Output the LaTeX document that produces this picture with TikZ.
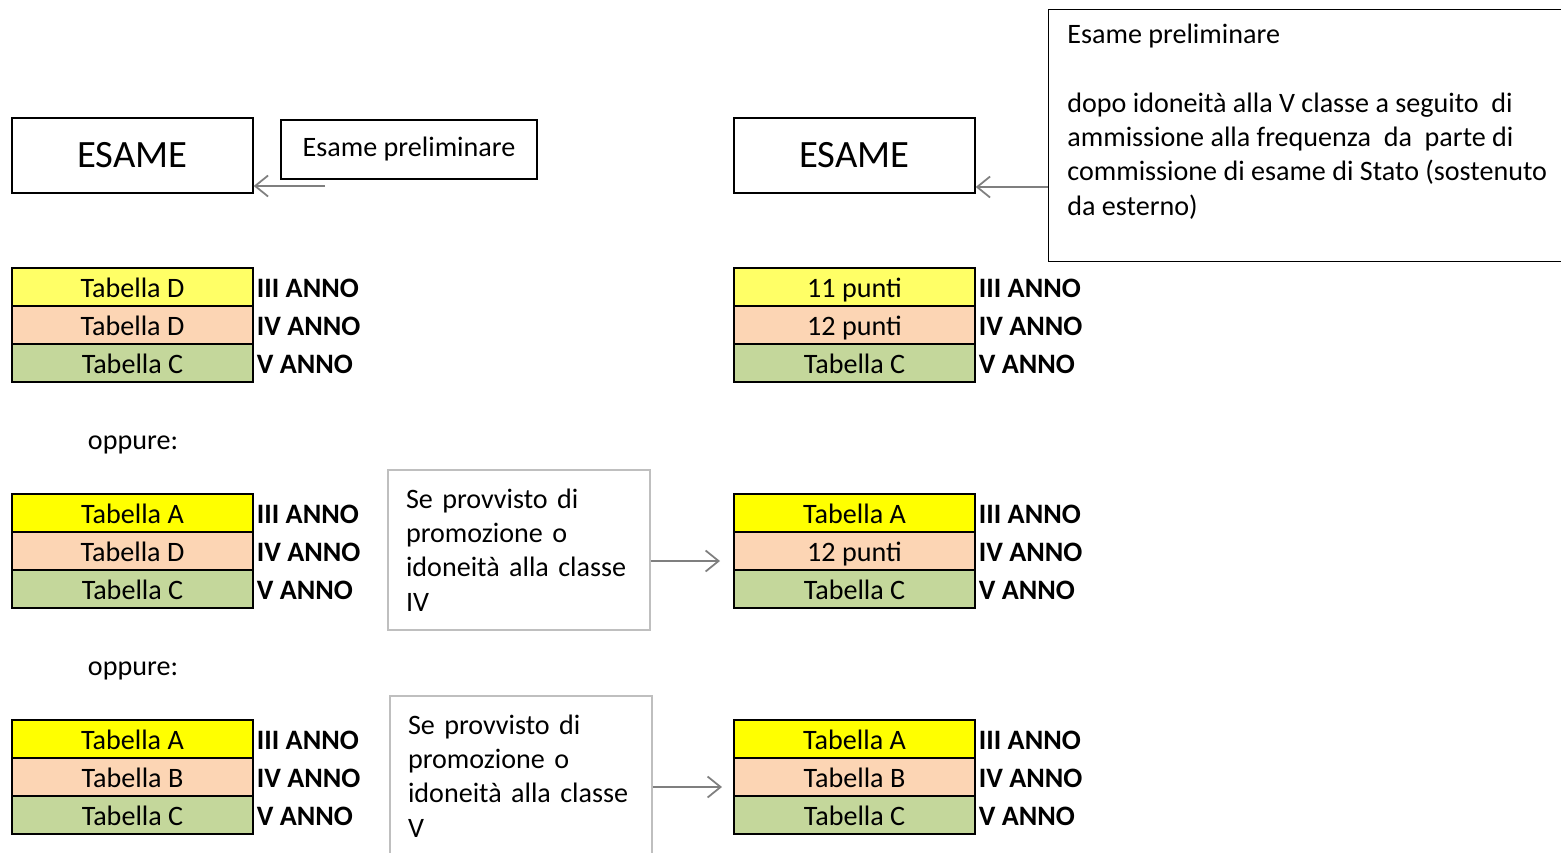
\documentclass[tikz,border=0pt]{standalone}
\usepackage{fontspec}
\setmainfont{Carlito}
\usetikzlibrary{positioning,arrows.meta}

\definecolor{giallino}{HTML}{FFFF66}
\definecolor{giallo}{HTML}{FFFF00}
\definecolor{pesca}{HTML}{FCD5B4}
\definecolor{verde}{HTML}{C4D79B}
\definecolor{grigio}{HTML}{BFBFBF}
\definecolor{freccia}{HTML}{7F7F7F}

\begin{document}
\begin{tikzpicture}[
  x=0.02cm,y=-0.02cm,
  >={Straight Barb[length=2.6mm,width=4.2mm]},
  testo/.style={font=\fontsize{16}{19.5}\selectfont},
  esame/.style={draw,line width=0.8pt,minimum width=4.82cm,minimum height=1.5cm,font=\fontsize{22}{26}\selectfont},
  nota/.style={draw,line width=0.8pt,testo},
  fila/.style={draw,line width=1.1pt,outer sep=0pt,minimum width=4.82cm,minimum height=0.76cm,inner sep=0pt,text height=12.5pt,text depth=0pt,testo},
  anno/.style={inner sep=2pt,yshift=-1pt,font=\fontsize{16}{19.5}\selectfont\bfseries},
  cond/.style={draw=grigio,line width=1pt,align=left,text width=4.52cm,inner xsep=0.36cm,minimum width=5.24cm,minimum height=3.2cm,testo},
  freccia/.style={->,draw=freccia,line width=1pt}
  ]

  \useasboundingbox (0,0) rectangle (1561,852);

  % intestazione sinistra
  \node[esame] (esame1) at (132.5,155.5) {ESAME};
  \node[nota,minimum width=5.12cm,minimum height=1.18cm] (prel1) at (409,149.5) {Esame preliminare};
  \coordinate (p1) at (325,186);
  \draw[freccia] (p1) -- (p1 -| esame1.east);

  % intestazione destra
  \node[esame] (esame2) at (854.5,155.5) {ESAME};
  \node[draw,line width=0.8pt,anchor=north west,minimum width=10.4cm,minimum height=5.04cm] (prel2) at (1048,9) {};
  \node[testo,align=left,anchor=north west,inner sep=0pt] (prel2t) at (1067,24)
    {Esame preliminare\\[19.5pt]
     dopo idoneità alla V classe a seguito\ \ di\\
     ammissione alla frequenza\ \ da\ \ parte di\\
     commissione di esame di Stato (sostenuto\\
     da esterno)};
  \coordinate (p2) at (1048,187);
  \draw[freccia] (p2) -- (p2 -| esame2.east);

  % primo caso
  \node[fila,fill=giallino] (a1) at (132.5,287) {Tabella D};
  \node[fila,fill=pesca,below=0pt of a1] (a2) {Tabella D};
  \node[fila,fill=verde,below=0pt of a2] (a3) {Tabella C};
  \node[fila,fill=giallino] (b1) at (854.5,287) {11 punti};
  \node[fila,fill=pesca,below=0pt of b1] (b2) {12 punti};
  \node[fila,fill=verde,below=0pt of b2] (b3) {Tabella C};

  \node[testo] (opp1) at (133,445) {oppure:};

  % secondo caso
  \node[fila,fill=giallo] (c1) at (132.5,513) {Tabella A};
  \node[fila,fill=pesca,below=0pt of c1] (c2) {Tabella D};
  \node[fila,fill=verde,below=0pt of c2] (c3) {Tabella C};
  \node[fila,fill=giallo] (d1) at (854.5,513) {Tabella A};
  \node[fila,fill=pesca,below=0pt of d1] (d2) {12 punti};
  \node[fila,fill=verde,below=0pt of d2] (d3) {Tabella C};
  \node[cond] (cond1) at (519,550) {Se provvisto di\\ promozione o\\ idoneità alla classe\\ IV};
  \coordinate (f1) at (720,561);
  \draw[freccia] (cond1.east |- f1) -- (f1);

  \node[testo] (opp2) at (133,671) {oppure:};

  % terzo caso
  \node[fila,fill=giallo] (e1) at (132.5,739) {Tabella A};
  \node[fila,fill=pesca,below=0pt of e1] (e2) {Tabella B};
  \node[fila,fill=verde,below=0pt of e2] (e3) {Tabella C};
  \node[fila,fill=giallo] (g1) at (854.5,739) {Tabella A};
  \node[fila,fill=pesca,below=0pt of g1] (g2) {Tabella B};
  \node[fila,fill=verde,below=0pt of g2] (g3) {Tabella C};
  \node[cond] (cond2) at (521,776) {Se provvisto di\\ promozione o\\ idoneità alla classe\\ V};
  \coordinate (f2) at (722,787);
  \draw[freccia] (cond2.east |- f2) -- (f2);

  % anni
  \foreach \t in {a,b,c,d,e,g}{
    \node[anno,right=0pt of \t1] {III ANNO};
    \node[anno,right=0pt of \t2] {IV ANNO};
    \node[anno,right=0pt of \t3] {V ANNO};
  }

\end{tikzpicture}
\end{document}
